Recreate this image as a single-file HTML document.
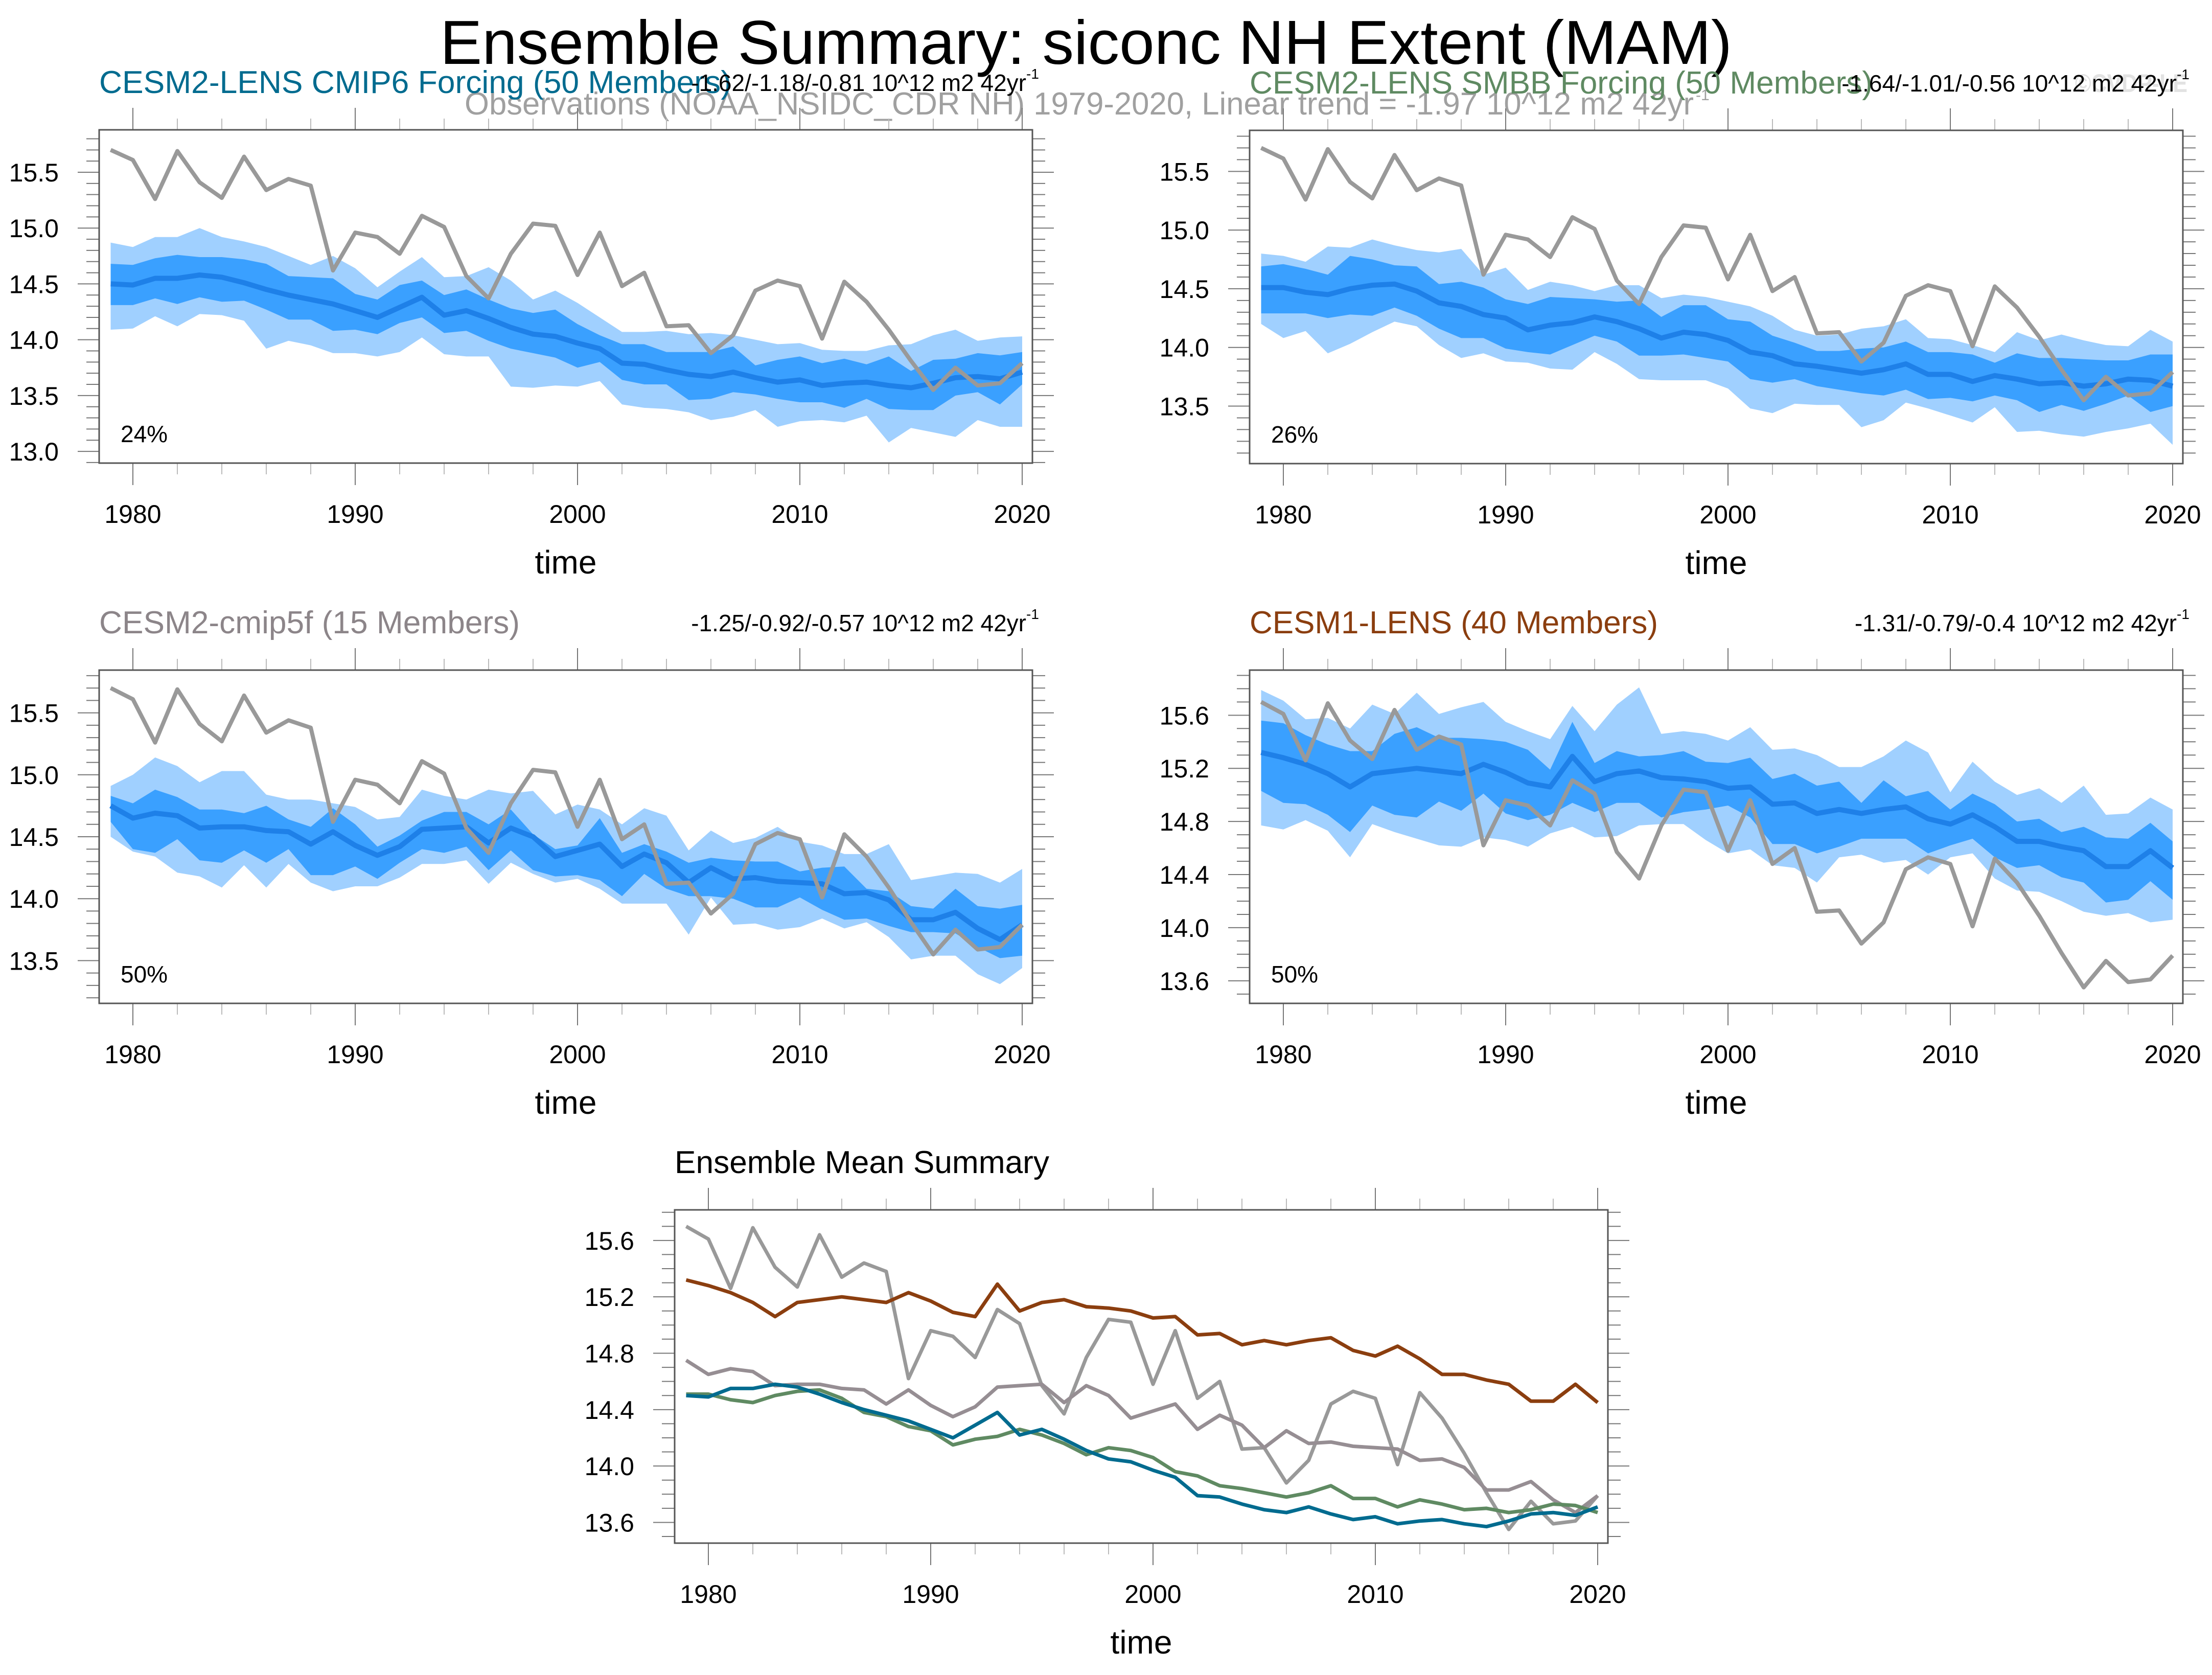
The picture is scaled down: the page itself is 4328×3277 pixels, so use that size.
<!DOCTYPE html>
<html><head><meta charset="utf-8"><title>Ensemble Summary: siconc NH Extent (MAM)</title>
<style>html,body{margin:0;padding:0;background:#fff}svg{display:block}text{font-family:"Liberation Sans",sans-serif}</style>
</head><body>
<svg id="chart" xmlns="http://www.w3.org/2000/svg" width="4328" height="3277" viewBox="0 0 4328 3277">
<rect x="0" y="0" width="4328" height="3277" fill="#fff"/>
<text x="2125" y="125" text-anchor="middle" font-size="122" textLength="2528" lengthAdjust="spacingAndGlyphs" fill="#000">Ensemble Summary: siconc NH Extent (MAM)</text>
<text x="909" y="224" font-size="62" textLength="2405" lengthAdjust="spacingAndGlyphs" fill="#a0a0a0">Observations (NOAA_NSIDC_CDR NH) 1979-2020, Linear trend = -1.97 10^12 m2 42yr</text>
<text x="3318" y="196" font-size="30" fill="#a0a0a0">-1</text>
<text x="4060" y="180" font-size="50" font-weight="bold" textLength="220" lengthAdjust="spacingAndGlyphs" fill="#e2e2e2">©CVDP-LE</text>
<g id="panels"></g>
</svg>
<script>
const years = [];
for (let y = 1979; y <= 2020; y++) years.push(y);

const obs = [15.70,15.61,15.26,15.69,15.41,15.27,15.64,15.34,15.44,15.38,14.62,14.96,14.92,14.77,15.11,15.01,14.57,14.37,14.77,15.04,15.02,14.58,14.96,14.48,14.60,14.12,14.13,13.88,14.04,14.44,14.53,14.48,14.01,14.52,14.34,14.09,13.81,13.55,13.75,13.59,13.61,13.79];

const cmip6Mean = [14.50,14.49,14.55,14.55,14.58,14.56,14.51,14.45,14.40,14.36,14.32,14.26,14.20,14.29,14.38,14.22,14.26,14.19,14.11,14.05,14.03,13.97,13.92,13.79,13.78,13.73,13.69,13.67,13.71,13.66,13.62,13.64,13.59,13.61,13.62,13.59,13.57,13.61,13.66,13.67,13.65,13.71];
const cmip6LightTop = [14.87,14.83,14.92,14.92,15.00,14.92,14.88,14.83,14.75,14.67,14.75,14.64,14.47,14.61,14.74,14.56,14.57,14.65,14.53,14.36,14.44,14.33,14.20,14.07,14.07,14.08,14.05,14.06,14.04,14.00,13.96,13.97,13.91,13.90,13.90,13.95,13.96,14.04,14.09,13.99,14.02,14.03];
const cmip6DarkTop = [14.68,14.67,14.73,14.76,14.74,14.74,14.72,14.68,14.57,14.56,14.55,14.41,14.36,14.49,14.53,14.40,14.45,14.36,14.28,14.24,14.27,14.14,14.04,13.96,13.96,13.89,13.89,13.89,13.94,13.77,13.82,13.85,13.79,13.83,13.78,13.85,13.72,13.82,13.83,13.88,13.86,13.89];
const cmip6DarkBot = [14.31,14.31,14.37,14.32,14.38,14.34,14.35,14.27,14.18,14.18,14.08,14.09,14.05,14.15,14.20,14.06,14.08,13.99,13.92,13.88,13.84,13.75,13.80,13.64,13.60,13.60,13.46,13.47,13.53,13.51,13.47,13.44,13.44,13.39,13.47,13.38,13.37,13.37,13.50,13.53,13.42,13.60];
const cmip6LightBot = [14.09,14.10,14.21,14.12,14.23,14.22,14.17,13.92,13.99,13.95,13.88,13.88,13.85,13.89,14.02,13.87,13.85,13.85,13.58,13.57,13.59,13.58,13.63,13.42,13.39,13.38,13.35,13.28,13.31,13.37,13.22,13.27,13.28,13.26,13.32,13.08,13.21,13.17,13.13,13.28,13.22,13.22];

const smbbMean = [14.51,14.51,14.47,14.45,14.50,14.53,14.54,14.48,14.38,14.35,14.28,14.25,14.15,14.19,14.21,14.26,14.22,14.16,14.08,14.13,14.11,14.06,13.96,13.93,13.86,13.84,13.81,13.78,13.81,13.86,13.77,13.77,13.71,13.76,13.73,13.69,13.70,13.67,13.69,13.73,13.72,13.67];
const smbbLightTop = [14.80,14.78,14.73,14.86,14.85,14.92,14.87,14.83,14.81,14.84,14.62,14.68,14.49,14.56,14.53,14.48,14.53,14.53,14.42,14.45,14.43,14.39,14.35,14.27,14.15,14.10,14.11,14.16,14.18,14.24,14.08,14.07,14.02,13.96,14.13,14.06,14.11,14.06,14.02,14.01,14.15,14.05];
const smbbDarkTop = [14.69,14.71,14.67,14.62,14.78,14.75,14.70,14.69,14.54,14.56,14.51,14.41,14.37,14.43,14.42,14.41,14.39,14.40,14.26,14.36,14.36,14.24,14.22,14.10,14.04,13.97,13.97,13.99,14.00,14.05,13.96,13.96,13.94,13.87,13.95,13.91,13.91,13.90,13.89,13.89,13.94,13.94];
const smbbDarkBot = [14.29,14.29,14.29,14.25,14.28,14.27,14.34,14.27,14.16,14.08,14.08,13.99,13.96,13.94,14.02,14.10,14.05,13.93,13.93,13.94,13.91,13.88,13.73,13.70,13.73,13.67,13.64,13.61,13.59,13.64,13.56,13.57,13.54,13.59,13.55,13.45,13.51,13.46,13.52,13.59,13.45,13.50];
const smbbLightBot = [14.20,14.08,14.14,13.95,14.03,14.13,14.22,14.18,14.02,13.91,13.95,13.88,13.87,13.82,13.81,13.96,13.86,13.73,13.72,13.72,13.72,13.65,13.48,13.44,13.52,13.51,13.51,13.32,13.38,13.53,13.48,13.42,13.36,13.49,13.28,13.29,13.26,13.24,13.28,13.31,13.35,13.17];

const cmip5fMean = [14.75,14.65,14.69,14.67,14.57,14.58,14.58,14.55,14.54,14.44,14.54,14.43,14.35,14.42,14.56,14.57,14.58,14.45,14.57,14.50,14.34,14.39,14.44,14.26,14.36,14.29,14.13,14.25,14.16,14.17,14.14,14.13,14.12,14.04,14.05,13.99,13.83,13.83,13.89,13.76,13.67,13.79];
const cmip5fLightTop = [14.91,15.00,15.14,15.07,14.94,15.03,15.03,14.84,14.80,14.80,14.77,14.74,14.64,14.66,14.88,14.83,14.80,14.88,14.85,14.87,14.68,14.76,14.72,14.60,14.73,14.67,14.39,14.55,14.45,14.49,14.58,14.46,14.43,14.36,14.36,14.44,14.15,14.18,14.21,14.20,14.13,14.24];
const cmip5fDarkTop = [14.83,14.77,14.88,14.82,14.72,14.72,14.69,14.75,14.64,14.58,14.73,14.60,14.42,14.51,14.63,14.70,14.70,14.60,14.72,14.52,14.40,14.43,14.65,14.37,14.44,14.38,14.29,14.33,14.31,14.30,14.30,14.22,14.25,14.26,14.08,14.06,13.94,13.92,14.08,13.94,13.92,13.95];
const cmip5fDarkBot = [14.62,14.40,14.37,14.48,14.31,14.29,14.39,14.29,14.40,14.19,14.19,14.26,14.16,14.29,14.40,14.37,14.42,14.23,14.39,14.23,14.18,14.19,14.15,14.02,14.20,14.08,14.02,14.02,14.00,13.93,13.93,14.01,13.91,13.83,13.84,13.78,13.73,13.73,13.72,13.61,13.52,13.54];
const cmip5fLightBot = [14.50,14.38,14.34,14.21,14.18,14.09,14.27,14.09,14.28,14.13,14.06,14.10,14.10,14.17,14.28,14.28,14.31,14.12,14.29,14.20,14.13,14.16,14.08,13.96,13.96,13.96,13.71,14.01,13.79,13.80,13.75,13.77,13.84,13.76,13.81,13.69,13.51,13.54,13.54,13.39,13.31,13.44];

const lens1Mean = [15.32,15.28,15.23,15.16,15.06,15.16,15.18,15.20,15.18,15.16,15.23,15.17,15.09,15.06,15.29,15.10,15.16,15.18,15.13,15.12,15.10,15.05,15.06,14.93,14.94,14.86,14.89,14.86,14.89,14.91,14.82,14.78,14.85,14.76,14.65,14.65,14.61,14.58,14.46,14.46,14.58,14.45];
const lens1LightTop = [15.79,15.71,15.57,15.58,15.50,15.68,15.61,15.77,15.61,15.66,15.70,15.55,15.48,15.42,15.67,15.48,15.68,15.81,15.46,15.48,15.46,15.41,15.51,15.34,15.35,15.30,15.21,15.21,15.29,15.41,15.32,15.02,15.25,15.10,15.00,15.05,14.94,15.07,14.85,14.86,14.98,14.89];
const lens1DarkTop = [15.56,15.54,15.45,15.38,15.33,15.33,15.46,15.51,15.43,15.43,15.42,15.40,15.34,15.19,15.55,15.24,15.33,15.29,15.30,15.33,15.25,15.24,15.28,15.12,15.16,15.07,15.10,14.94,15.11,14.99,15.03,14.89,15.01,14.93,14.80,14.82,14.72,14.76,14.68,14.67,14.79,14.65];
const lens1DarkBot = [15.03,14.94,14.93,14.85,14.72,14.92,14.85,14.83,14.95,14.88,15.01,14.86,14.81,14.85,14.94,14.87,14.94,14.94,14.83,14.87,14.89,14.92,14.83,14.63,14.63,14.56,14.61,14.67,14.67,14.67,14.56,14.62,14.67,14.53,14.45,14.47,14.38,14.34,14.19,14.21,14.35,14.21];
const lens1LightBot = [14.77,14.74,14.81,14.73,14.53,14.78,14.72,14.67,14.62,14.61,14.68,14.66,14.61,14.71,14.76,14.68,14.69,14.77,14.78,14.78,14.66,14.56,14.59,14.47,14.45,14.34,14.53,14.55,14.49,14.51,14.40,14.53,14.56,14.37,14.28,14.27,14.20,14.12,14.09,14.11,14.04,14.06];

const xTickYears = [1980, 1990, 2000, 2010, 2020];

const NS = "http://www.w3.org/2000/svg";
const root = document.getElementById("panels");
function mk(tag, attrs, parent) {
  const e = document.createElementNS(NS, tag);
  for (const k in attrs) e.setAttribute(k, attrs[k]);
  (parent || root).appendChild(e);
  return e;
}

const W = 1826, H = 652;
function makePanel(p) {
  const g = mk("g", {});
  
  
  const xs = yr => p.left + 22.5 + (yr - 1979) * 43.5;
  const ys = v => p.top + (p.ymax - v) / (p.ymax - p.ymin) * H;
  // bands
  function band(top, bot, color, nm) {
    let d = "M" + years.map((yr, i) => xs(yr).toFixed(1) + "," + ys(top[i]).toFixed(1)).join("L");
    for (let i = years.length - 1; i >= 0; i--) d += "L" + xs(years[i]).toFixed(1) + "," + ys(bot[i]).toFixed(1);
    const e = mk("path", {d: d + "Z", fill: color, stroke: "none"}, g);
    
    
  }
  function line(vals, color, w, nm) {
    const d = "M" + years.map((yr, i) => xs(yr).toFixed(1) + "," + ys(vals[i]).toFixed(1)).join("L");
    const e = mk("path", {d: d, fill: "none", stroke: color, "stroke-width": w, "stroke-linejoin": "round"}, g);
    
    
  }
  if (p.bands) {
    band(p.bands[0], p.bands[3], "#a0d0ff", "outer-range-band");
    band(p.bands[1], p.bands[2], "#3aa0ff", "inner-range-band");
    line(p.bands[4], "#1e80e8", 10, "ensemble-mean-line");
    line(obs, "#999999", 8, "observations-line");
  }
  if (p.lines) {
    p.lines.forEach(l => line(l[0], l[1], l[2], l[3]));
  }
  // ticks
  const tc = "#777";
  for (let yr = 1980; yr <= 2020; yr += 2) {
    const major = (yr % 10 === 0);
    const len = major ? 43 : 22;
    const x = xs(yr);
    let e = mk("line", {x1: x, x2: x, y1: p.top, y2: p.top - len, stroke: major ? "#777" : "#bbb", "stroke-width": 2}, g);
    
    
    e = mk("line", {x1: x, x2: x, y1: p.top + H, y2: p.top + H + len, stroke: major ? "#777" : "#bbb", "stroke-width": 2}, g);
    
    
  }
  const startT = Math.ceil(p.ymin * 10 - 1e-6), endT = Math.floor(p.ymax * 10 + 1e-6);
  for (let t = startT; t <= endT; t++) {
    const v = t / 10;
    const major = Math.abs((t / (p.step * 10)) - Math.round(t / (p.step * 10))) < 1e-6;
    const len = major ? 42 : 25;
    const y = ys(v);
    let e = mk("line", {x1: p.left, x2: p.left - len, y1: y, y2: y, stroke: tc, "stroke-width": 2}, g);
    
    
    e = mk("line", {x1: p.left + W, x2: p.left + W + len, y1: y, y2: y, stroke: tc, "stroke-width": 2}, g);
    
    
    if (major) {
      const tx = mk("text", {x: p.left - 79, y: y + 18, "text-anchor": "end", "font-size": 50, fill: "#000"}, g);
      tx.textContent = v.toFixed(1);
      
      
    }
  }
  const box = mk("rect", {x: p.left, y: p.top, width: W, height: H, fill: "none", stroke: "#555", "stroke-width": 3}, g);
  
  
  xTickYears.forEach(yr => {
    const tx = mk("text", {x: xs(yr), y: p.top + H + 117, "text-anchor": "middle", "font-size": 50, fill: "#000"}, g);
    tx.textContent = String(yr);
    
    
  });
  const xt = mk("text", {x: p.left + 913, y: p.top + H + 216, "text-anchor": "middle", "font-size": 64, fill: "#000"}, g);
  xt.textContent = "time";
  
  
  const st = mk("text", {x: p.left, y: p.top - 72, "font-size": 62, fill: p.color, textLength: p.titleW, lengthAdjust: "spacingAndGlyphs"}, g);
  st.textContent = p.title;
  
  
  if (p.trend) {
    const tr = mk("text", {x: p.left + W - 12, y: p.top - 76, "text-anchor": "end", "font-size": 46, fill: "#000"}, g);
    tr.textContent = p.trend;
    
    
    const sp = mk("text", {x: p.left + W - 12, y: p.top - 100, "font-size": 28, fill: "#000"}, g);
    sp.textContent = "-1";
    
    
  }
  if (p.pct) {
    const pc = mk("text", {x: p.left + 42, y: p.top + H - 41, "font-size": 46, fill: "#000"}, g);
    pc.textContent = p.pct;
    
    
  }
}

makePanel({name: "panel-cesm2-cmip6", left: 194, top: 254, ymin: 12.895, ymax: 15.88, step: 0.5,
  title: "CESM2-LENS CMIP6 Forcing (50 Members)", titleW: 1237, color: "#006b8f",
  trend: "-1.62/-1.18/-0.81 10^12 m2 42yr", pct: "24%",
  bands: [cmip6LightTop, cmip6DarkTop, cmip6DarkBot, cmip6LightBot, cmip6Mean]});
makePanel({name: "panel-cesm2-smbb", left: 2445, top: 255, ymin: 13.01, ymax: 15.85, step: 0.5,
  title: "CESM2-LENS SMBB Forcing (50 Members)", titleW: 1219, color: "#5f8a62",
  trend: "-1.64/-1.01/-0.56 10^12 m2 42yr", pct: "26%",
  bands: [smbbLightTop, smbbDarkTop, smbbDarkBot, smbbLightBot, smbbMean]});
makePanel({name: "panel-cesm2-cmip5f", left: 194, top: 1311, ymin: 13.155, ymax: 15.845, step: 0.5,
  title: "CESM2-cmip5f (15 Members)", titleW: 823, color: "#8c8589",
  trend: "-1.25/-0.92/-0.57 10^12 m2 42yr", pct: "50%",
  bands: [cmip5fLightTop, cmip5fDarkTop, cmip5fDarkBot, cmip5fLightBot, cmip5fMean]});
makePanel({name: "panel-cesm1-lens", left: 2445, top: 1311, ymin: 13.43, ymax: 15.94, step: 0.4,
  title: "CESM1-LENS (40 Members)", titleW: 799, color: "#8b3e0f",
  trend: "-1.31/-0.79/-0.4 10^12 m2 42yr", pct: "50%",
  bands: [lens1LightTop, lens1DarkTop, lens1DarkBot, lens1LightBot, lens1Mean]});
makePanel({name: "panel-ensemble-mean-summary", left: 1320, top: 2367, ymin: 13.453, ymax: 15.817, step: 0.4,
  title: "Ensemble Mean Summary", titleW: 733, color: "#000",
  lines: [
    [obs, "#999999", 7, "observations-line"],
    [lens1Mean, "#8b3e0f", 7, "cesm1-lens-mean-line"],
    [cmip5fMean, "#968e93", 7, "cesm2-cmip5f-mean-line"],
    [smbbMean, "#5f8a62", 7, "cesm2-smbb-mean-line"],
    [cmip6Mean, "#006b8f", 7, "cesm2-cmip6-mean-line"]
  ]});
</script>
</body></html>
